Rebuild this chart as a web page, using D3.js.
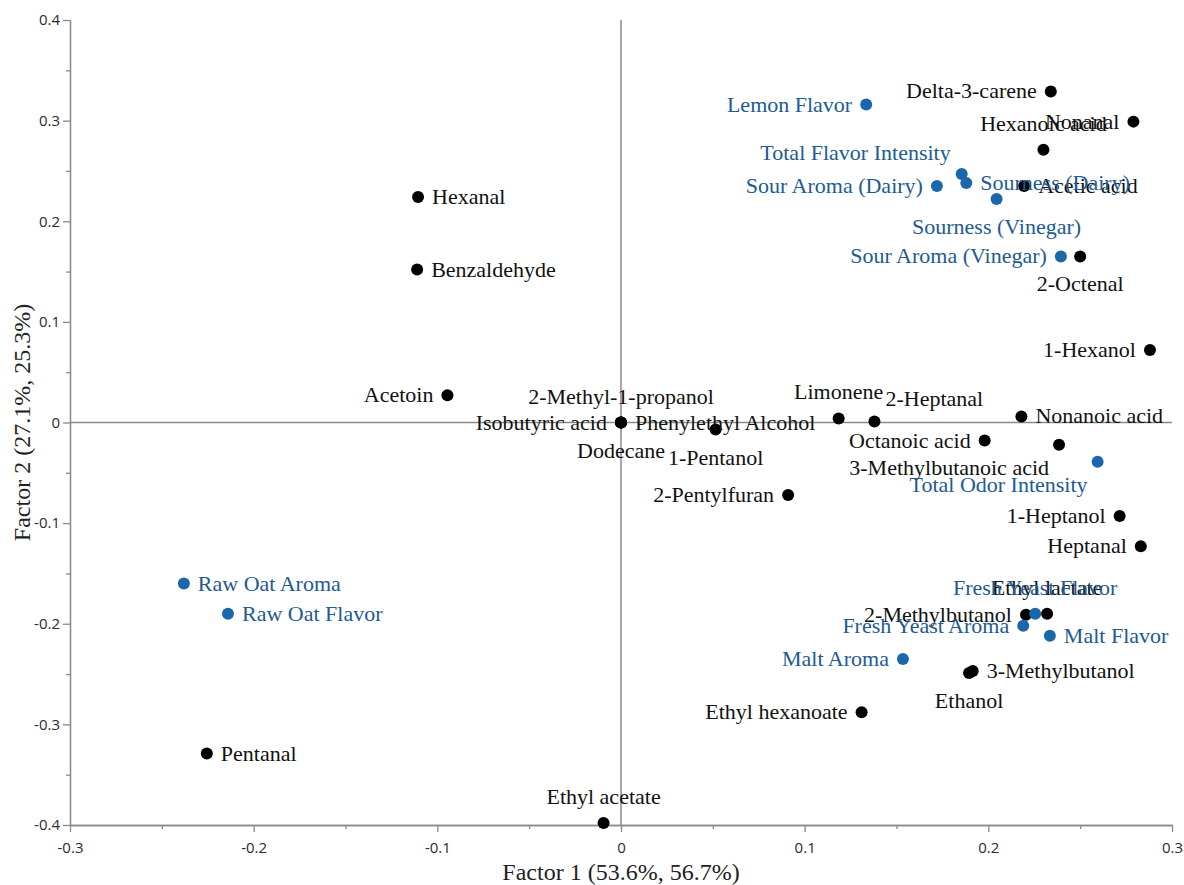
<!DOCTYPE html>
<html>
<head>
<meta charset="utf-8">
<script src="https://cdn.jsdelivr.net/npm/d3@7"></script>
<style>
  html, body { margin: 0; padding: 0; background: #fff; }
  svg { display: block; }
</style>
</head>
<body>
<svg id="chart" width="1184" height="885"></svg>
<script>
// Factor loadings: volatile compounds (black) and sensory attributes (blue)
const compoundNames = [
  "Delta-3-carene", "Nonanal", "Hexanoic acid", "Acetic acid", "2-Octenal",
  "Hexanal", "Benzaldehyde", "1-Hexanol", "Acetoin",
  "2-Methyl-1-propanol", "Isobutyric acid", "Phenylethyl Alcohol", "Dodecane",
  "1-Pentanol", "2-Pentylfuran", "Limonene", "2-Heptanal", "Nonanoic acid",
  "Octanoic acid", "3-Methylbutanoic acid", "1-Heptanol", "Heptanal",
  "Pentanal", "Ethyl acetate", "Ethyl hexanoate", "2-Methylbutanol",
  "Ethyl lactate", "3-Methylbutanol", "Ethanol"
];
const compoundF1 = [
  0.234, 0.279, 0.230, 0.2195, 0.250,
  -0.1105, -0.111, 0.288, -0.0945,
  0.000, 0.000, 0.000, 0.000,
  0.0515, 0.091, 0.1185, 0.138, 0.218,
  0.198, 0.2385, 0.2715, 0.283,
  -0.2255, -0.0095, 0.131, 0.2205,
  0.232, 0.1915, 0.1895
];
const compoundF2 = [
  0.329, 0.299, 0.271, 0.235, 0.165,
  0.224, 0.152, 0.072, 0.027,
  0.000, 0.000, 0.000, 0.000,
  -0.007, -0.072, 0.004, 0.001, 0.006,
  -0.018, -0.022, -0.093, -0.123,
  -0.329, -0.398, -0.288, -0.191,
  -0.190, -0.247, -0.249
];

const attributeNames = [
  "Lemon Flavor", "Total Flavor Intensity", "Sour Aroma (Dairy)", "Sourness (Dairy)",
  "Sourness (Vinegar)", "Sour Aroma (Vinegar)", "Total Odor Intensity",
  "Raw Oat Aroma", "Raw Oat Flavor", "Malt Aroma", "Fresh Yeast Flavor",
  "Fresh Yeast Aroma", "Malt Flavor"
];
const attributeF1 = [
  0.1335, 0.1855, 0.172, 0.188,
  0.2045, 0.2395, 0.2595,
  -0.238, -0.214, 0.1535, 0.2255,
  0.219, 0.2335
];
const attributeF2 = [
  0.316, 0.247, 0.235, 0.238,
  0.222, 0.165, -0.039,
  -0.160, -0.190, -0.235, -0.190,
  -0.202, -0.212
];

// Axis ticks
const xTicks = [-0.3, -0.2, -0.1, 0, 0.1, 0.2, 0.3];
const yTicks = [-0.4, -0.3, -0.2, -0.1, 0, 0.1, 0.2, 0.3, 0.4];
const xTitle = "Factor 1 (53.6%, 56.7%)";
const yTitle = "Factor 2 (27.1%, 25.3%)";

// Where each label sits relative to its dot
const labelSide = {
  "Delta-3-carene": "l", "Nonanal": "l", "Hexanoic acid": "t", "Acetic acid": "r",
  "2-Octenal": "b", "Hexanal": "r", "Benzaldehyde": "r", "1-Hexanol": "l",
  "Acetoin": "l", "2-Methyl-1-propanol": "t", "Isobutyric acid": "l",
  "Phenylethyl Alcohol": "r", "Dodecane": "b", "1-Pentanol": "b",
  "2-Pentylfuran": "l", "Limonene": "t", "2-Heptanal": "tr", "Nonanoic acid": "r",
  "Octanoic acid": "l", "3-Methylbutanoic acid": "bl", "1-Heptanol": "l",
  "Heptanal": "l", "Pentanal": "r", "Ethyl acetate": "t", "Ethyl hexanoate": "l",
  "2-Methylbutanol": "l", "Ethyl lactate": "t", "3-Methylbutanol": "r",
  "Ethanol": "b",
  "Lemon Flavor": "l", "Total Flavor Intensity": "tl", "Sour Aroma (Dairy)": "l",
  "Sourness (Dairy)": "r", "Sourness (Vinegar)": "b", "Sour Aroma (Vinegar)": "l",
  "Total Odor Intensity": "bl", "Raw Oat Aroma": "r", "Raw Oat Flavor": "r",
  "Malt Aroma": "l", "Fresh Yeast Flavor": "t", "Fresh Yeast Aroma": "l",
  "Malt Flavor": "r"
};

const compounds = compoundNames.map((n, i) => ({ name: n, x: compoundF1[i], y: compoundF2[i], kind: "compound" }));
const attributes = attributeNames.map((n, i) => ({ name: n, x: attributeF1[i], y: attributeF2[i], kind: "attribute" }));

const svg = d3.select("#chart");
const plotLeft = 70, plotRight = 1172, plotTop = 20, plotBottom = 825;

const x = d3.scaleLinear().domain([-0.3, 0.3]).range([plotLeft, plotRight]);
const y = d3.scaleLinear().domain([-0.4, 0.4]).range([plotBottom, plotTop]);

const axisColor = "#8a8a8a";
const tickFont = "'Open Sans', 'DejaVu Sans', sans-serif";
const fmt = d => (Math.abs(d) < 1e-9 ? "0" : String(+d.toFixed(1)));

// minor ticks halfway between the labelled ones
const xMinor = xTicks.slice(0, -1).map((d, i) => (d + xTicks[i + 1]) / 2);
const yMinor = yTicks.slice(0, -1).map((d, i) => (d + yTicks[i + 1]) / 2);

function styleAxis(g) {
  g.selectAll("path, line").attr("stroke", axisColor).attr("stroke-width", 1.3);
  g.selectAll("text").attr("fill", "#2b2b2b").style("font-family", tickFont).style("font-size", "15px");
}

svg.append("g").attr("transform", `translate(0,${plotBottom})`)
  .call(d3.axisBottom(x).tickValues(xMinor).tickSize(4).tickSizeOuter(0).tickFormat(""))
  .call(styleAxis);
svg.append("g").attr("transform", `translate(${plotLeft},0)`)
  .call(d3.axisLeft(y).tickValues(yMinor).tickSize(4).tickSizeOuter(0).tickFormat(""))
  .call(styleAxis);

svg.append("g").attr("transform", `translate(0,${plotBottom})`)
  .call(d3.axisBottom(x).tickValues(xTicks).tickSize(7).tickSizeOuter(0).tickPadding(10).tickFormat(fmt))
  .call(styleAxis);
svg.append("g").attr("transform", `translate(${plotLeft},0)`)
  .call(d3.axisLeft(y).tickValues(yTicks).tickSize(7).tickSizeOuter(0).tickPadding(3).tickFormat(fmt))
  .call(styleAxis);

// zero reference lines
svg.append("line").attr("x1", x(-0.3)).attr("x2", x(0.3)).attr("y1", y(0)).attr("y2", y(0))
  .attr("stroke", axisColor).attr("stroke-width", 1.5);
svg.append("line").attr("x1", x(0)).attr("x2", x(0)).attr("y1", y(0.4)).attr("y2", y(-0.4))
  .attr("stroke", axisColor).attr("stroke-width", 1.5);

// axis titles
const serif = "'Liberation Serif', 'Times New Roman', serif";
svg.append("text").attr("x", x(0)).attr("y", 880).attr("text-anchor", "middle")
  .style("font-family", serif).style("font-size", "24px").attr("fill", "#222").text(xTitle);
svg.append("text").attr("transform", `translate(30,${y(0)}) rotate(-90)`).attr("text-anchor", "middle")
  .style("font-family", serif).style("font-size", "24px").attr("fill", "#222").text(yTitle);

const dotColor = { compound: "#000000", attribute: "#1a68ab" };
const textColor = { compound: "#111111", attribute: "#225a92" };

const all = compounds.concat(attributes);

// dots
svg.append("g").selectAll("circle").data(all).join("circle")
  .attr("cx", d => x(d.x)).attr("cy", d => y(d.y)).attr("r", 6)
  .attr("fill", d => dotColor[d.kind]);

// labels
function labelPos(d) {
  const side = labelSide[d.name] || "r";
  const cx = x(d.x), cy = y(d.y);
  switch (side) {
    case "l":  return { x: cx - 14, y: cy + 7, anchor: "end" };
    case "t":  return { x: cx, y: cy - 19, anchor: "middle" };
    case "b":  return { x: cx, y: cy + 35, anchor: "middle" };
    case "tr": return { x: cx + 11, y: cy - 15, anchor: "start" };
    case "tl": return { x: cx - 11, y: cy - 14, anchor: "end" };
    case "bl": return { x: cx - 10, y: cy + 30, anchor: "end" };
    default:   return { x: cx + 14, y: cy + 7, anchor: "start" };
  }
}

svg.append("g").selectAll("text").data(all).join("text")
  .each(function (d) {
    const p = labelPos(d);
    d3.select(this).attr("x", p.x).attr("y", p.y).attr("text-anchor", p.anchor);
  })
  .style("font-family", serif).style("font-size", "22px")
  .attr("fill", d => textColor[d.kind])
  .text(d => d.name);
</script>
</body>
</html>
